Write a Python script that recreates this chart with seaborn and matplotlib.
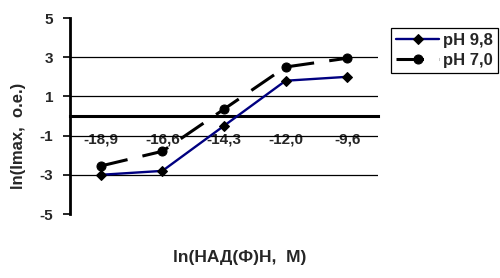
import matplotlib
matplotlib.use("Agg")
import matplotlib.pyplot as plt
import seaborn as sns
import numpy as np
import pandas as pd

categories = ["-18,9", "-16,6", "-14,3", "-12,0", "-9,6"]
ph98 = [-3.0, -2.8, -0.5, 1.8, 2.0]
ph70 = [-2.55, -1.8, 0.35, 2.5, 2.95]
yticks = [-5, -3, -1, 1, 3, 5]

sns.set_theme(style="white")
plt.rcParams["font.family"] = ["Liberation Sans", "DejaVu Sans"]
plt.rcParams["font.weight"] = "bold"

fig = plt.figure(figsize=(5.0, 2.78), dpi=100)
ax = fig.add_axes([0.14, 0.2302, 0.616, 0.705])

pos = np.arange(len(categories))
df = pd.DataFrame({"x": np.concatenate([pos, pos]),
                   "y": ph98 + ph70,
                   "s": ["pH 9,8"] * 5 + ["pH 7,0"] * 5})

for y in [3, 1, -1, -3]:
    ax.axhline(y, color="black", lw=0.9, zorder=1)

sns.lineplot(data=df[df.s == "pH 9,8"], x="x", y="y", ax=ax, color="#000080",
             lw=1.7, marker="D", markersize=4.8, markeredgecolor="black",
             markerfacecolor="black", label="pH 9,8", zorder=3)
sns.lineplot(data=df[df.s == "pH 7,0"], x="x", y="y", ax=ax, color="black",
             lw=2.2, marker="o", markersize=6.5, markeredgecolor="black",
             markerfacecolor="black", label="pH 7,0", zorder=3)
ax.lines[-1].set_dashes([9, 5])

ax.set_xlim(-0.5, len(categories) - 0.5)
ax.set_ylim(-5, 5)
ax.set_yticks(yticks)
ax.set_yticklabels([str(v) for v in yticks], fontsize=11, fontweight="bold")
ax.set_xticks(list(np.arange(len(categories)) + 0.5), minor=False)
ax.set_xticklabels([])
ax.set_xticks(pos, minor=True)
ax.set_xticklabels(categories, minor=True, fontsize=11, fontweight="bold")
ax.tick_params(axis="x", which="minor", length=0, pad=12)
ax.tick_params(axis="x", which="major", length=3, width=2, direction="out", color="black")
ax.tick_params(axis="y", length=5, width=1.2, direction="out", color="black", pad=7, left=True)

for s in ["top", "right"]:
    ax.spines[s].set_visible(False)
ax.spines["left"].set_linewidth(2)
ax.spines["left"].set_color("black")
ax.spines["bottom"].set_position(("data", 0))
ax.spines["bottom"].set_linewidth(2.2)
ax.spines["bottom"].set_color("black")
ax.grid(False)

ax.set_xlabel("ln(НАД(Ф)Н,  М)", fontsize=12.5, fontweight="bold")
ax.xaxis.set_label_coords(0.552, -0.184)
ax.set_ylabel("ln(Imax,  о.е.)", fontsize=12, fontweight="bold")
ax.yaxis.set_label_coords(-0.143, 0.40)

leg = ax.legend(loc="upper left", bbox_to_anchor=(0.782, 0.899),
                bbox_transform=fig.transFigure, borderaxespad=0,
                prop={"size": 12, "weight": "bold"}, handlelength=2.6,
                handletextpad=0.2, borderpad=0.3, labelspacing=0.3,
                fancybox=False, framealpha=1)
leg.get_frame().set_edgecolor("black")
leg.get_frame().set_linewidth(0.9)

fig.savefig("out.png", dpi=100)
